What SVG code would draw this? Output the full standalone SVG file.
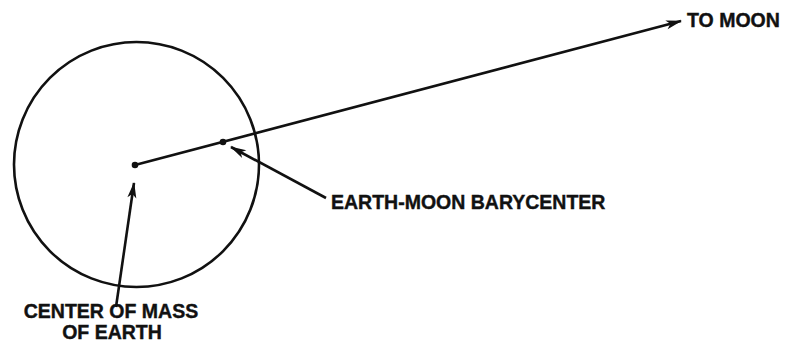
<svg xmlns="http://www.w3.org/2000/svg" width="788" height="341" viewBox="0 0 788 341">
<style>
.ln{stroke:#111;stroke-width:2.6;fill:none}
.lbl{font-family:"Liberation Sans",Arial,sans-serif;font-weight:bold;font-size:19.5px;fill:#111;stroke:#111;stroke-width:0.4}
.dot{fill:#111}
</style>
<defs>
<marker id="ah" markerUnits="userSpaceOnUse" markerWidth="20" markerHeight="12" viewBox="-16 -6 18 12" refX="0" refY="0" orient="auto">
<path d="M1,0 L-15,-4.5 L-11,0 L-15,4.5 Z" fill="#111"/>
</marker>
</defs>
<rect width="788" height="341" fill="#fff"/>
<g id="earth">
<circle class="ln" cx="136.5" cy="164.5" r="122.5"/>
</g>
<g id="center-of-mass">
<circle class="dot" cx="135" cy="165" r="3.3"/>
<text class="lbl" x="111" y="317.5" text-anchor="middle">CENTER OF MASS</text>
<text class="lbl" x="112" y="338.5" text-anchor="middle">OF EARTH</text>
</g>
<g id="barycenter">
<circle class="dot" cx="223" cy="142" r="3.3"/>
<text class="lbl" x="331" y="209">EARTH-MOON BARYCENTER</text>
</g>
<g id="moon">
<text class="lbl" x="687" y="27">TO MOON</text>
</g>
<g id="connectors">
<line class="ln" x1="135" y1="165" x2="681" y2="21" marker-end="url(#ah)"/>
<line class="ln" x1="326" y1="198" x2="231" y2="147" marker-end="url(#ah)"/>
<line class="ln" x1="116" y1="307" x2="134" y2="183" marker-end="url(#ah)"/>
</g>
</svg>
